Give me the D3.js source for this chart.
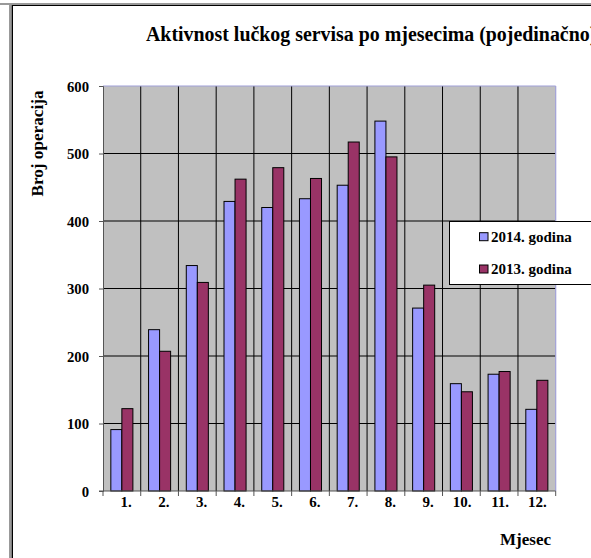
<!DOCTYPE html>
<html><head><meta charset="utf-8">
<script src="https://cdn.jsdelivr.net/npm/d3@7"></script>
<style>body{margin:0;background:#fff;overflow:hidden}svg{display:block}text{font-family:"Liberation Serif","Times New Roman",serif;font-weight:bold}</style>
</head><body>
<script>
const months = ["1.","2.","3.","4.","5.","6.","7.","8.","9.","10.","11.","12."];
const seriesNames = ["2014. godina","2013. godina"];
const values2014 = [91,239,334,429,420,433,453,548,271,159,173,121];
const values2013 = [122,207,309,462,479,463,517,495,305,147,177,164];
const yTicks = [0,100,200,300,400,500,600];
const colors = ["#9999FF","#993366"];

const W=591,H=558;
const svg=d3.select("body").append("svg").attr("width",W).attr("height",H);

// frame
svg.append("rect").attr("x",0).attr("y",3).attr("width",W).attr("height",2).attr("fill","#999");
svg.append("rect").attr("x",9).attr("y",3).attr("width",2).attr("height",H).attr("fill","#999");
svg.append("rect").attr("x",11.5).attr("y",5).attr("width",1.5).attr("height",H).attr("fill","#000");
svg.append("rect").attr("x",12).attr("y",5).attr("width",W).attr("height",1).attr("fill","#000");

const x0=103,x1=555.7,yTop=86,yBot=491;
const x=d3.scaleBand().domain(months).range([x0,x1]).paddingInner(0).paddingOuter(0);
const y=d3.scaleLinear().domain([0,600]).range([yBot,yTop]);
const inner=d3.scaleBand().domain(seriesNames).range([0,x.bandwidth()]).paddingInner(0).paddingOuter(0.71);

svg.append("rect").attr("x",x0).attr("y",yTop).attr("width",x1-x0).attr("height",yBot-yTop).attr("fill","#C0C0C0");

// horizontal grid
svg.append("g").selectAll("line").data(yTicks.filter(d=>d>0&&d<600)).join("line")
  .attr("x1",x0).attr("x2",x1).attr("y1",d=>y(d)).attr("y2",d=>y(d)).attr("stroke","#000").attr("stroke-width",1);
// vertical grid
svg.append("g").selectAll("line").data(months.slice(1)).join("line")
  .attr("x1",d=>x(d)).attr("x2",d=>x(d)).attr("y1",yTop).attr("y2",yBot).attr("stroke","#000").attr("stroke-width",1);
// plot border top/right
svg.append("line").attr("x1",x0).attr("x2",x1).attr("y1",yTop).attr("y2",yTop).attr("stroke","#A0A0D8").attr("stroke-width",1.2);
svg.append("line").attr("x1",x1).attr("x2",x1).attr("y1",yTop).attr("y2",yBot).attr("stroke","#A0A0D8").attr("stroke-width",1.2);

// bars
const data=months.map((m,i)=>({m,v:[values2014[i],values2013[i]]}));
const g=svg.append("g");
data.forEach(d=>{
  d.v.forEach((v,j)=>{
    g.append("rect").attr("x",x(d.m)+inner(seriesNames[j])).attr("y",y(v))
      .attr("width",inner.bandwidth()).attr("height",yBot-y(v))
      .attr("fill",colors[j]).attr("stroke","#000").attr("stroke-width",1);
  });
});

// y axis
const yAxis=d3.axisLeft(y).tickValues(yTicks).tickSize(4).tickPadding(10);
const ya=svg.append("g").attr("transform",`translate(${x0},0)`).call(yAxis);
ya.select(".domain").attr("stroke","#555");
ya.selectAll(".tick line").attr("stroke","#555");
ya.selectAll("text").attr("font-size",14.7).attr("fill","#000").attr("dy","0.34em").style("font-family","Liberation Serif").style("font-weight","bold");

// x axis
const xa=svg.append("g").attr("transform",`translate(0,${yBot})`);
xa.append("line").attr("x1",x0-4).attr("x2",x1).attr("y1",0).attr("y2",0).attr("stroke","#555");
xa.selectAll(".tk").data(months.concat(["end"])).join("line")
  .attr("x1",(d,i)=>x0+i*x.bandwidth()).attr("x2",(d,i)=>x0+i*x.bandwidth()).attr("y1",0).attr("y2",5).attr("stroke","#555");
xa.selectAll("text").data(months).join("text")
  .attr("x",d=>x(d)+x.bandwidth()/2+10).attr("y",15.5).attr("text-anchor","end")
  .attr("font-size",15).text(d=>d);

// titles
svg.append("text").attr("x",146).attr("y",40.5).attr("font-size",19.9).text("Aktivnost lučkog servisa po mjesecima (pojedinačno)");
svg.append("text").attr("transform","translate(43,143.5) rotate(-90)").attr("text-anchor","middle").attr("font-size",17.2).text("Broj operacija");
svg.append("text").attr("x",551).attr("y",545).attr("text-anchor","end").attr("font-size",17).text("Mjesec");

// legend
const lg=svg.append("g");
lg.append("rect").attr("x",449.5).attr("y",221.5).attr("width",160).attr("height",63).attr("fill","#fff").attr("stroke","#000").attr("stroke-width",1);
seriesNames.forEach((n,i)=>{
  const cy=236.7+i*32.3;
  lg.append("rect").attr("x",479.5).attr("y",cy-4).attr("width",8.5).attr("height",8).attr("fill",colors[i]).attr("stroke","#000").attr("stroke-width",1);
  lg.append("text").attr("x",491).attr("y",cy+5).attr("font-size",15).text(n);
});
</script>
</body></html>
